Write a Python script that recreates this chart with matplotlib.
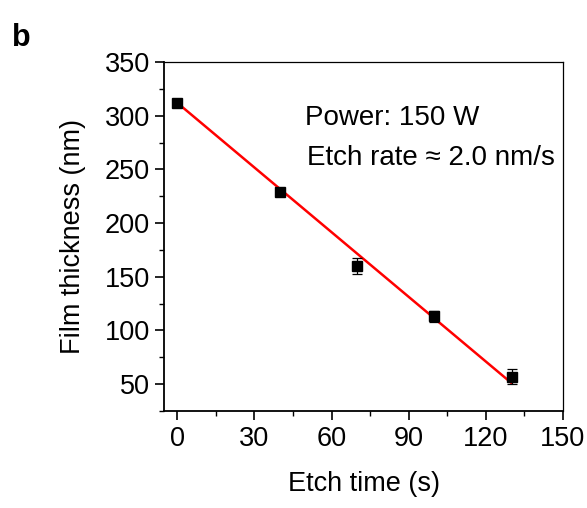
import numpy as np
import matplotlib
matplotlib.use("Agg")
import matplotlib.pyplot as plt
from matplotlib.ticker import MultipleLocator

# measured film thickness vs etch time
etch_time = [0, 40, 70, 100, 130]
thickness = [312, 229, 160, 113, 57]
thickness_err = [2, 2, 7, 5, 7]

# linear fit drawn in the figure (endpoints)
fit_time = [0, 130]
fit_thickness = [312, 51]

x_ticks = [0, 30, 60, 90, 120, 150]
y_ticks = [50, 100, 150, 200, 250, 300, 350]

plt.rcParams["font.family"] = ["Liberation Sans", "DejaVu Sans"]

fig = plt.figure(figsize=(5.87, 5.08), dpi=100)
ax = fig.add_axes([0.280, 0.191, 0.679, 0.687])

ax.plot(fit_time, fit_thickness, color="red", lw=1.8, zorder=2)
ax.errorbar(etch_time, thickness, yerr=thickness_err, fmt="s", color="black",
            ms=6.5, elinewidth=0.9, capsize=3.5, capthick=0.9, zorder=3)

ax.set_xlim(-5, 150)
ax.set_ylim(25, 350)
ax.set_xticks(x_ticks)
ax.set_yticks(y_ticks)
ax.xaxis.set_minor_locator(MultipleLocator(15))
ax.yaxis.set_minor_locator(MultipleLocator(25))
ax.tick_params(which="major", direction="out", length=6.5, width=1.2,
               labelsize=19.5, pad=4, top=False, right=False)
ax.tick_params(which="minor", direction="out", length=3.5, width=1.0,
               top=False, right=False)
for side in ["left", "bottom"]:
    ax.spines[side].set_linewidth(1.3)
for side in ["top", "right"]:
    ax.spines[side].set_linewidth(0.9)

ax.set_xlabel("Etch time (s)", fontsize=19.5, labelpad=14)
ax.set_ylabel("Film thickness (nm)", fontsize=19.5, labelpad=13)

ax.text(49.5, 291.5, "Power: 150 W", fontsize=20, ha="left", va="baseline")
ax.text(50.5, 254.5, "Etch rate \u2248 2.0 nm/s", fontsize=20,
        ha="left", va="baseline")

fig.text(0.02, 0.955, "b", fontsize=22, fontweight="bold", va="top")

fig.savefig("out.png", dpi=100)
